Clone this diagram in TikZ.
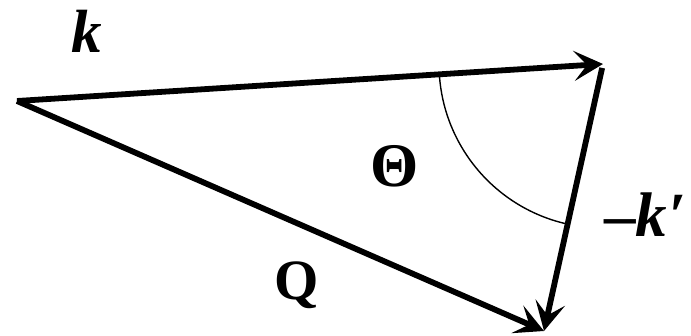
\documentclass[tikz,border=0pt]{standalone}
\usepackage{fontspec}
\setmainfont{Liberation Serif}
\usetikzlibrary{arrows.meta,calc}
\begin{document}
\begin{tikzpicture}[x=1pt,y=-1pt,
  vec/.style={line width=5.8pt,-{Stealth[length=29pt,width=30pt,inset=13pt]}},
  anglearc/.style={line width=1.4pt},
  lbl/.style={inner sep=0pt,anchor=base}]
\useasboundingbox (0,0) rectangle (691,336);
\coordinate (A) at (17,101);
\coordinate (B) at (603,64);
\coordinate (C) at (544,331);
\draw[vec] (A) -- (B);
\draw[vec,shorten <=4pt] (B) -- (C);
\draw[vec] (A) -- (C);
\draw[anglearc] ($(B)+(176.4:164)$) arc[start angle=176.4,end angle=102.5,radius=164];
\node[lbl] (k) at (87,53) {\fontsize{61}{61}\selectfont\bfseries\itshape k};
\node[lbl] (theta) at (395,187) {\fontsize{62}{62}\selectfont\bfseries Θ};
\node[lbl] (Q) at (297,300) {\fontsize{57}{57}\selectfont\bfseries Q};
\node[lbl,anchor=base west] (kp) at (604,237) {\fontsize{63}{63}\selectfont\bfseries –\textit{k}\kern2pt′};
\end{tikzpicture}
\end{document}
